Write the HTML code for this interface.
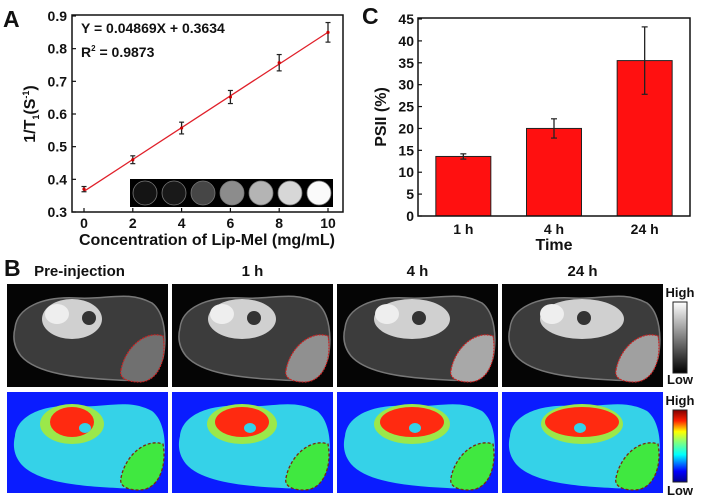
<!DOCTYPE html>
<html><head><meta charset="utf-8"><style>
body{margin:0;background:#fff;width:701px;height:502px;overflow:hidden}
svg{display:block}
text{font-family:"Liberation Sans",Arial,sans-serif;font-weight:bold;fill:#111}
</style></head><body>
<svg id="fig" width="701" height="502" xmlns="http://www.w3.org/2000/svg">
<defs>
<linearGradient id="gGray" x1="0" y1="1" x2="0" y2="0"><stop offset="0" stop-color="#000"/><stop offset="1" stop-color="#fff"/></linearGradient>
<linearGradient id="gJet" x1="0" y1="1" x2="0" y2="0"><stop offset="0" stop-color="#00008f"/><stop offset="0.15" stop-color="#0000ff"/><stop offset="0.38" stop-color="#00ffff"/><stop offset="0.55" stop-color="#80ff80"/><stop offset="0.7" stop-color="#ffff00"/><stop offset="0.85" stop-color="#ff2000"/><stop offset="1" stop-color="#800000"/></linearGradient>
</defs>
<g id="panelA"></g>
<g id="panelC"></g>
<g id="panelB"></g>
</svg>
<script>
// Panel A data
const aX = [0, 2, 4, 6, 8, 10];
const aY = [0.37, 0.46, 0.557, 0.652, 0.757, 0.85];
const aErr = [0.008, 0.012, 0.018, 0.02, 0.025, 0.03];
const aSlope = 0.04869;
const aIntercept = 0.3634;
const aXTicks = [0, 2, 4, 6, 8, 10];
const aYTicks = [0.3, 0.4, 0.5, 0.6, 0.7, 0.8, 0.9];
const aPhantomGray = [20, 25, 70, 140, 180, 215, 250];
// Panel C data
const cCats = ["1 h", "4 h", "24 h"];
const cVals = [13.6, 20.0, 35.5];
const cErr = [0.6, 2.2, 7.7];
const cYTicks = [0, 5, 10, 15, 20, 25, 30, 35, 40, 45];
// Panel B
const bTitles = ["Pre-injection", "1 h", "4 h", "24 h"];

const NS = "http://www.w3.org/2000/svg";
function mk(parent, tag, attrs, txt) {
  const e = document.createElementNS(NS, tag);
  for (const k in attrs) e.setAttribute(k, attrs[k]);
  if (txt !== undefined) e.textContent = txt;
  parent.appendChild(e);
  return e;
}

// ---------- Panel A ----------
(function () {
  const g = document.getElementById('panelA');
  const L = 72, R = 343, T = 15, B = 212;
  const sx = v => 84 + (v - 0) * (328 - 84) / 10;
  const sy = v => B - (v - 0.3) * (B - 16) / 0.6;
  let t = mk(g, 'text', { x: 3, y: 27, 'font-size': 23 }, 'A');
   
  const inset = mk(g, 'rect', { x: 130, y: 179, width: 203, height: 28, fill: '#000' });
   
  aPhantomGray.forEach((v, i) => {
    const c = mk(g, 'circle', { cx: 145 + i * 29, cy: 193, r: 12, fill: `rgb(${v},${v},${v})`, stroke: '#777', 'stroke-width': 0.8 });
     
  });
  const fr = mk(g, 'rect', { x: L, y: T, width: R - L, height: B - T, fill: 'none', stroke: '#111', 'stroke-width': 1.5 });
   
  aXTicks.forEach(v => {
    mk(g, 'line', { x1: sx(v), x2: sx(v), y1: B, y2: B - 4, stroke: '#111', 'stroke-width': 1.2 });
    const tl = mk(g, 'text', { x: sx(v), y: B + 16, 'font-size': 14, 'text-anchor': 'middle' }, String(v));
     
  });
  aYTicks.forEach(v => {
    mk(g, 'line', { x1: L, x2: L + 4, y1: sy(v), y2: sy(v), stroke: '#111', 'stroke-width': 1.2 });
    const tl = mk(g, 'text', { x: L - 5, y: sy(v) + 5, 'font-size': 14, 'text-anchor': 'end' }, v.toFixed(1));
     
  });
  const fit = mk(g, 'line', { x1: sx(0), y1: sy(aIntercept), x2: sx(10), y2: sy(aIntercept + aSlope * 10), stroke: '#e0202a', 'stroke-width': 1.3 });
   
  aX.forEach((x, i) => {
    const e = mk(g, 'g', {});
     
    const X = sx(x), y1 = sy(aY[i] + aErr[i]), y2 = sy(aY[i] - aErr[i]);
    mk(e, 'line', { x1: X, x2: X, y1: y1, y2: y2, stroke: '#222', 'stroke-width': 1.3 });
    mk(e, 'line', { x1: X - 2.5, x2: X + 2.5, y1: y1, y2: y1, stroke: '#222', 'stroke-width': 1.2 });
    mk(e, 'line', { x1: X - 2.5, x2: X + 2.5, y1: y2, y2: y2, stroke: '#222', 'stroke-width': 1.2 });
    const p = mk(g, 'circle', { cx: X, cy: sy(aY[i]), r: 1.6, fill: '#c00' });
     
  });
  t = mk(g, 'text', { x: 81, y: 33, 'font-size': 14 }, 'Y = 0.04869X + 0.3634');
   
  t = mk(g, 'text', { x: 81, y: 57, 'font-size': 14 });
  t.innerHTML = 'R<tspan dy="-6" font-size="8">2</tspan><tspan dy="6"> = 0.9873</tspan>';
   
  t = mk(g, 'text', { x: 207, y: 245, 'font-size': 16, 'text-anchor': 'middle' }, 'Concentration of Lip-Mel (mg/mL)');
   
  t = mk(g, 'text', { x: 0, y: 0, 'font-size': 16, 'text-anchor': 'middle', transform: 'translate(35,114) rotate(-90)' });
  t.innerHTML = '1/T<tspan dy="4" font-size="9">1</tspan><tspan dy="-4">(S</tspan><tspan dy="-6" font-size="9">-1</tspan><tspan dy="6">)</tspan>';
   
})();

// ---------- Panel C ----------
(function () {
  const g = document.getElementById('panelC');
  const L = 418, R = 690, T = 18, B = 216;
  const sy = v => B - v * (B - 19) / 45;
  const bw = 55, step = (R - L) / cCats.length;
  const cx = i => L + step * (i + 0.5);
  let t = mk(g, 'text', { x: 362, y: 24, 'font-size': 23 }, 'C');
   
  cVals.forEach((v, i) => {
    const b = mk(g, 'rect', { x: cx(i) - bw / 2, y: sy(v), width: bw, height: B - sy(v), fill: '#ff1010', stroke: '#222', 'stroke-width': 1 });
    
    
    const e = mk(g, 'g', {});
     
    const y1 = sy(v + cErr[i]), y2 = sy(v - cErr[i]);
    mk(e, 'line', { x1: cx(i), x2: cx(i), y1: y1, y2: y2, stroke: '#222', 'stroke-width': 1.3 });
    mk(e, 'line', { x1: cx(i) - 3, x2: cx(i) + 3, y1: y1, y2: y1, stroke: '#222', 'stroke-width': 1.2 });
    mk(e, 'line', { x1: cx(i) - 3, x2: cx(i) + 3, y1: y2, y2: y2, stroke: '#222', 'stroke-width': 1.2 });
    const tl = mk(g, 'text', { x: cx(i), y: B + 18, 'font-size': 14, 'text-anchor': 'middle' }, cCats[i]);
     
  });
  const fr = mk(g, 'rect', { x: L, y: T, width: R - L, height: B - T, fill: 'none', stroke: '#111', 'stroke-width': 1.5 });
   
  cYTicks.forEach(v => {
    mk(g, 'line', { x1: L, x2: L + 4, y1: sy(v), y2: sy(v), stroke: '#111', 'stroke-width': 1.2 });
    const tl = mk(g, 'text', { x: L - 4, y: sy(v) + 5, 'font-size': 14, 'text-anchor': 'end' }, String(v));
     
  });
  t = mk(g, 'text', { x: 554, y: 250, 'font-size': 16, 'text-anchor': 'middle' }, 'Time');
   
  t = mk(g, 'text', { x: 0, y: 0, 'font-size': 16, 'text-anchor': 'middle', transform: 'translate(386,117) rotate(-90)' }, 'PSII (%)');
   
})();

// ---------- Panel B ----------
(function () {
  const g = document.getElementById('panelB');
  const cols = [7, 172, 337, 502], W = 161;
  const rows = [284, 392], H = [103, 101];
  let t = mk(g, 'text', { x: 4, y: 276, 'font-size': 23 }, 'B');
   
  const body = 'M8,50 C10,30 35,18 70,20 C100,22 120,12 145,25 C158,35 160,60 156,80 C150,98 130,104 110,102 C70,100 30,96 14,78 C6,68 6,58 8,50 Z';
  const tumor = 'M114,92 C118,70 138,52 156,58 C160,80 152,104 132,104 C120,104 112,100 114,92 Z';
  cols.forEach((x, i) => {
    const tt = mk(g, 'text', { x: x + W / 2 + (i === 0 ? -8 : 0), y: 276, 'font-size': 15, 'text-anchor': 'middle' }, bTitles[i]);
     
    const gg = mk(g, 'g', { transform: `translate(${x},${rows[0]})` });
     
    mk(gg, 'rect', { width: W, height: H[0], fill: '#050505' });
    mk(gg, 'path', { d: body, fill: '#3c3c3c', stroke: '#777', 'stroke-width': 1.5, transform: 'translate(0,-6)' });
    mk(gg, 'ellipse', { cx: 65 + i * 5, cy: 35, rx: 30 + i * 4, ry: 20, fill: '#d0d0d0' });
    mk(gg, 'ellipse', { cx: 50, cy: 30, rx: 12, ry: 10, fill: '#eee' });
    mk(gg, 'ellipse', { cx: 82, cy: 34, rx: 7, ry: 7, fill: '#333' });
    mk(gg, 'path', { d: tumor, fill: ['#707070', '#909090', '#a8a8a8', '#a0a0a0'][i], stroke: '#c22', 'stroke-width': 1.2, 'stroke-dasharray': '2,1', transform: 'translate(0,-6)' });
    const gc = mk(g, 'g', { transform: `translate(${x},${rows[1]})` });
     
    mk(gc, 'rect', { width: W, height: H[1], fill: '#0a1cff' });
    mk(gc, 'path', { d: body, fill: '#35d2e8', transform: 'translate(0,-6)' });
    mk(gc, 'ellipse', { cx: 65 + i * 5, cy: 32, rx: 32 + i * 3, ry: 20, fill: '#9be84a' });
    mk(gc, 'ellipse', { cx: 65 + i * 5, cy: 30, rx: 22 + i * 5, ry: 15, fill: '#ff2a10' });
    mk(gc, 'ellipse', { cx: 78, cy: 36, rx: 6, ry: 5, fill: '#35d2e8' });
    mk(gc, 'path', { d: tumor, fill: '#40e840', stroke: '#7a2a10', 'stroke-width': 1.3, 'stroke-dasharray': '3,2', transform: 'translate(0,-6)' });
  });
  const cb1 = mk(g, 'rect', { x: 673, y: 302, width: 14, height: 71, fill: 'url(#gGray)', stroke: '#222', 'stroke-width': 1 });
   
  const cb2 = mk(g, 'rect', { x: 673, y: 410, width: 14, height: 72, fill: 'url(#gJet)', stroke: '#222', 'stroke-width': 1 });
   
  [[297, 'High'], [384, 'Low'], [405, 'High'], [495, 'Low']].forEach(([y, s]) => {
    const l = mk(g, 'text', { x: 680, y: y, 'font-size': 13, 'text-anchor': 'middle' }, s);
     
  });
})();
</script>
</body></html>
